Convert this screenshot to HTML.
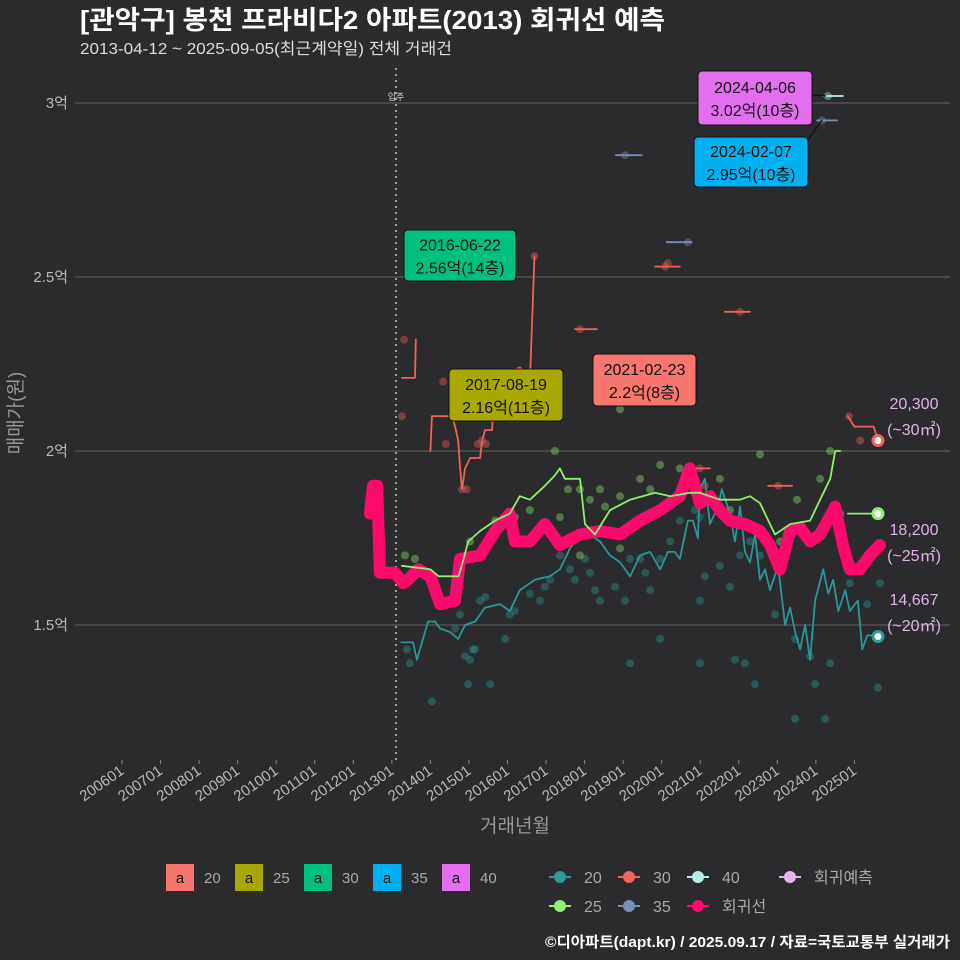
<!DOCTYPE html>
<html><head><meta charset="utf-8">
<style>
html,body{margin:0;padding:0;background:#2b2a2c;}
svg{display:block;font-family:"Liberation Sans","Noto Sans CJK KR",sans-serif;}
</style></head>
<body>
<svg id="chart" width="960" height="960" viewBox="0 0 960 960" xmlns="http://www.w3.org/2000/svg">
<rect x="0" y="0" width="960" height="960" fill="#2b2a2c"/>
<text x="80" y="29" fill="#ffffff" font-size="26" font-weight="bold" textLength="585" lengthAdjust="spacingAndGlyphs">[관악구] 봉천 프라비다2 아파트(2013) 회귀선 예측</text>
<text x="80" y="54" fill="#dddddd" font-size="16" textLength="372" lengthAdjust="spacingAndGlyphs">2013-04-12 ~ 2025-09-05(최근계약일) 전체 거래건</text>
<g id="grid"></g>
<g id="marks"></g>
<g id="annot"></g>
<text transform="translate(22,413) rotate(-90)" text-anchor="middle" fill="#999" font-size="19">매매가(원)</text>
<text x="515" y="832" text-anchor="middle" fill="#999" font-size="19">거래년월</text>
<g id="legend"></g>
<text x="950" y="947" text-anchor="end" fill="#ffffff" font-size="15" font-weight="bold" textLength="405" lengthAdjust="spacingAndGlyphs">©디아파트(dapt.kr) / 2025.09.17 / 자료=국토교통부 실거래가</text>
</svg>
<script>
const yTicks = [1.5, 2, 2.5, 3];
const yTickLabels = ["1.5억", "2억", "2.5억", "3억"];
const xTickYears = [2006,2007,2008,2009,2010,2011,2012,2013,2014,2015,2016,2017,2018,2019,2020,2021,2022,2023,2024,2025];
const xTickLabels = ["200601","200701","200801","200901","201001","201101","201201","201301","201401","201501","201601","201701","201801","201901","202001","202101","202201","202301","202401","202501"];

const regT = [2012.43,2012.51,2012.62,2012.69,2013.08,2013.30,2013.42,2013.68,2014.0,2014.25,2014.64,2014.77,2015.29,2015.68,2016.06,2016.19,2016.58,2016.97,2017.36,2017.88,2018.40,2018.92,2019.44,2019.96,2020.47,2020.73,2020.99,2021.25,2021.51,2021.77,2022.16,2022.55,2022.81,2023.07,2023.33,2023.59,2023.85,2024.11,2024.50,2024.70,2024.88,2025.14,2025.40,2025.66];
const regV = [1.82,1.90,1.90,1.65,1.65,1.62,1.63,1.66,1.64,1.56,1.57,1.69,1.70,1.77,1.82,1.74,1.74,1.79,1.73,1.76,1.77,1.76,1.80,1.83,1.87,1.95,1.85,1.87,1.83,1.80,1.79,1.77,1.73,1.66,1.77,1.78,1.74,1.76,1.84,1.73,1.66,1.66,1.70,1.73];

const s25T = [2013.26,2014.0,2014.21,2014.73,2014.86,2014.98,2015.29,2015.68,2016.06,2016.32,2016.58,2016.97,2017.23,2017.36,2017.49,2017.88,2018.01,2018.27,2018.66,2019.18,2019.83,2020.22,2020.73,2020.99,2021.51,2022.03,2022.29,2022.55,2022.94,2023.33,2023.85,2024.11,2024.37,2024.50,2024.63];
const s25V = [1.67,1.66,1.64,1.64,1.69,1.74,1.77,1.80,1.82,1.87,1.86,1.90,1.93,1.95,1.92,1.92,1.79,1.76,1.83,1.86,1.88,1.87,1.88,1.88,1.86,1.86,1.87,1.85,1.76,1.79,1.80,1.86,1.92,2.00,2.00];
const s25EndT = [2024.83,2025.61];
const s25EndV = [1.82,1.82];

const s20T = [2013.24,2013.55,2013.65,2013.94,2014.12,2014.25,2014.51,2014.72,2014.90,2015.16,2015.42,2015.81,2016.06,2016.32,2016.71,2017.10,2017.36,2017.62,2017.75,2018.01,2018.14,2018.40,2018.66,2018.92,2019.18,2019.44,2019.70,2019.96,2020.16,2020.34,2020.47,2020.68,2020.81,2020.94,2020.99,2021.12,2021.25,2021.46,2021.56,2021.77,2021.90,2022.03,2022.16,2022.29,2022.42,2022.55,2022.68,2022.81,2023.02,2023.20,2023.33,2023.46,2023.59,2023.72,2023.85,2023.98,2024.19,2024.32,2024.45,2024.58,2024.76,2024.88,2025.09,2025.20,2025.33,2025.61];
const s20V = [1.45,1.45,1.40,1.51,1.51,1.49,1.48,1.46,1.50,1.51,1.55,1.56,1.54,1.60,1.63,1.64,1.66,1.72,1.74,1.76,1.76,1.74,1.70,1.68,1.64,1.70,1.71,1.66,1.71,1.71,1.69,1.80,1.80,1.75,1.89,1.92,1.79,1.84,1.89,1.82,1.74,1.84,1.71,1.68,1.76,1.63,1.66,1.60,1.67,1.50,1.55,1.48,1.43,1.50,1.40,1.57,1.66,1.59,1.63,1.54,1.60,1.54,1.57,1.43,1.47,1.47];

const s30Segs = [
 [[2013.26,2.21],[2013.60,2.21],[2013.62,2.32]],
 [[2014.00,2.00],[2014.04,2.10],[2014.56,2.10],[2014.64,2.07],[2014.72,2.03],[2014.77,1.95],[2014.82,1.89],[2014.90,1.95],[2015.03,1.98],[2015.29,1.98],[2015.34,2.03],[2015.42,2.06],[2015.60,2.06],[2015.63,2.13],[2015.68,2.14],[2015.94,2.17],[2016.12,2.23],[2016.32,2.24],[2016.45,2.23],[2016.58,2.20],[2016.70,2.56]],
 [[2017.75,2.35],[2018.32,2.35]],
 [[2019.83,2.53],[2020.47,2.53]],
 [[2020.60,1.95],[2021.25,1.95]],
 [[2021.64,2.40],[2022.29,2.40]],
 [[2022.76,1.90],[2023.38,1.90]],
 [[2024.83,2.10],[2025.00,2.07],[2025.50,2.07],[2025.61,2.03]]
];
const s35Segs = [[[2018.81,2.85],[2019.48,2.85]],[[2020.13,2.60],[2020.78,2.60]],[[2024.03,2.95],[2024.55,2.95]]];
const s40Segs = [[[2024.18,3.02],[2024.70,3.02]]];

const p20T = [2013.47,2013.39,2014.04,2014.90,2015.03,2015.10,2015.16,2014.98,2015.55,2015.29,2015.42,2014.64,2014.77,2015.94,2016.06,2016.19,2016.84,2016.97,2017.10,2017.36,2017.75,2018.01,2018.14,2018.40,2018.79,2019.05,2019.18,2019.57,2019.96,2020.22,2020.47,2020.86,2020.99,2021.12,2021.51,2021.77,2022.03,2022.29,2022.55,2022.94,2023.46,2023.85,2024.24,2024.37,2024.88,2025.33,2025.61,2019.44,2019.70,2018.61,2019.18,2020.99,2020.99,2019.96,2021.90,2022.16,2022.42,2023.46,2023.98,2025.66,2016.58,2017.62,2018.27,2021.38];
const p20V = [1.39,1.43,1.28,1.41,1.40,1.43,1.43,1.33,1.33,1.57,1.58,1.49,1.53,1.46,1.53,1.54,1.57,1.61,1.63,1.70,1.63,1.69,1.65,1.57,1.61,1.57,1.69,1.65,1.69,1.74,1.80,1.83,1.81,1.64,1.67,1.61,1.70,1.74,1.70,1.53,1.46,1.41,1.23,1.39,1.62,1.56,1.32,1.69,1.60,1.76,1.39,1.39,1.57,1.46,1.40,1.39,1.33,1.23,1.33,1.62,1.59,1.66,1.60,1.86];

const p25T = [2013.34,2013.60,2015.03,2015.68,2016.19,2016.58,2017.23,2017.57,2017.88,2018.14,2018.40,2018.53,2018.92,2019.44,2019.70,2019.96,2020.47,2021.25,2021.51,2021.77,2022.16,2022.55,2023.07,2023.51,2024.11,2024.37,2018.92,2017.36,2017.88,2018.92,2024.63,2025.61];
const p25V = [1.70,1.69,1.74,1.80,1.81,1.83,2.00,1.89,1.89,1.86,1.89,1.84,1.87,1.92,1.89,1.96,1.95,1.86,1.92,1.83,1.79,1.99,1.74,1.86,1.92,2.00,1.72,1.81,1.70,2.12,1.82,1.82];

const p30T = [2013.26,2013.32,2014.33,2014.40,2015.23,2015.34,2015.44,2014.82,2014.94,2017.88,2020.09,2020.16,2020.99,2022.03,2023.02,2024.86,2025.15,2025.61,2016.70,2021.12];
const p30V = [2.10,2.32,2.20,2.02,2.02,2.03,2.02,1.89,1.89,2.35,2.53,2.54,1.95,2.40,1.90,2.10,2.03,2.03,2.56,1.90];

const p35T = [2019.05,2020.68,2024.16];
const p35V = [2.85,2.60,2.95];
const p40T = [2024.31];
const p40V = [3.02];

const NS = "http://www.w3.org/2000/svg";
const PX0 = 122, PXY = 38.55, Y2 = 451, PXV = 348;
function xs(t){ return PX0 + (t - 2006) * PXY; }
function ys(v){ return Y2 - (v - 2) * PXV; }
function mk(tag, attrs, parent){
  const e = document.createElementNS(NS, tag);
  for (const k in attrs) e.setAttribute(k, attrs[k]);
  parent.appendChild(e);
  return e;
}
const grid = document.getElementById('grid');
const marks = document.getElementById('marks');
const annot = document.getElementById('annot');
const legend = document.getElementById('legend');

yTicks.forEach((v,i)=>{
  const l = mk('line',{x1:75,x2:950,y1:ys(v),y2:ys(v),stroke:'#5a5a5a','stroke-width':1.2},grid);
  
  
  const t = mk('text',{x:68,y:ys(v)+5,'text-anchor':'end',fill:'#bbbbbb','font-size':15},grid);
  t.textContent = yTickLabels[i];
  
  
});
xTickYears.forEach((yr,i)=>{
  const x = xs(yr);
  const tk = mk('line',{x1:x,x2:x,y1:760,y2:764,stroke:'#888','stroke-width':1},grid);
  
  
  const t = mk('text',{x:x+3,y:773,'text-anchor':'end',fill:'#bbbbbb','font-size':15,transform:'rotate(-35 '+(x+3)+' 773)'},grid);
  t.textContent = xTickLabels[i];
  
  
});
const mv = mk('line',{x1:396,x2:396,y1:68,y2:760,stroke:'#cccccc','stroke-width':1.5,'stroke-dasharray':'2,4'},grid);


const mvt = mk('text',{x:396,y:100,'text-anchor':'middle',fill:'#ddd','font-size':9},grid);
mvt.textContent = '입주';



function dots(T,V,color,name){
  T.forEach((t,i)=>{
    const c = mk('circle',{cx:xs(t),cy:ys(V[i]),r:4,fill:color,'fill-opacity':0.4},marks);
    
    
  });
}
function poly(T,V,color,w,name,op){
  const pts = T.map((t,i)=>xs(t).toFixed(1)+','+ys(V[i]).toFixed(1)).join(' ');
  const p = mk('polyline',{points:pts,fill:'none',stroke:color,'stroke-width':w,'stroke-linejoin':'round','stroke-linecap':'round','stroke-opacity':op||1},marks);
  
  
}
function segs(S,color,w,name){
  S.forEach(s=>poly(s.map(d=>d[0]),s.map(d=>d[1]),color,w,name));
}
dots(p20T,p20V,'#2e9a9a','point-20');
dots(p25T,p25V,'#90ee70','point-25');
dots(p30T,p30V,'#f0625a','point-30');
dots(p35T,p35V,'#7890b8','point-35');
dots(p40T,p40V,'#b0f0e8','point-40');
poly(s20T,s20V,'#2a9898',1.8,'line-20');
segs(s30Segs,'#f0625a',1.8,'line-30');
segs(s35Segs,'#7890b8',1.8,'line-35');
segs(s40Segs,'#b0f0e8',1.8,'line-40');
poly(regT,regV,'#ff0a6c',12,'regression-line');
poly(s25T,s25V,'#90ee70',1.8,'line-25');
poly(s25EndT,s25EndV,'#90ee70',1.8,'line-25-end');

[[2025.61,2.03,'#f0625a','end-point-30'],[2025.61,1.82,'#90ee70','end-point-25'],[2025.61,1.467,'#2e9a9a','end-point-20']].forEach(e=>{
  const c = mk('circle',{cx:xs(e[0]),cy:ys(e[1]),r:5,fill:'#ffffff',stroke:e[2],'stroke-width':3},marks);
  
  
});
[['20,300',403],['(~30㎡)',429],['18,200',529],['(~25㎡)',555],['14,667',599],['(~20㎡)',625]].forEach(l=>{
  const t = mk('text',{x:914,y:l[1]+6,'text-anchor':'middle',fill:'#e2b4ea','font-size':16},annot);
  t.textContent = l[0];
  
  
});
const boxes = [
  [698,71,114,54,'#e36ef0','2024-04-06','3.02억(10층)',[812,95,826,96]],
  [694,137,114,50,'#00b0f0','2024-02-07','2.95억(10층)',[808,140,822,120]],
  [404,230,112,51,'#00c080','2016-06-22','2.56억(14층)',null],
  [449,369,114,52,'#a8a800','2017-08-19','2.16억(11층)',null],
  [593,354,103,52,'#f8766d','2021-02-23','2.2억(8층)',null]
];
boxes.forEach(b=>{
  if(b[7]){
    const ln = mk('line',{x1:b[7][0],y1:b[7][1],x2:b[7][2],y2:b[7][3],stroke:'#111','stroke-width':1.5},annot);
    
    
  }
  const r = mk('rect',{x:b[0],y:b[1],width:b[2],height:b[3],rx:4,fill:b[4],stroke:'#111','stroke-width':1},annot);
  
  
  const t1 = mk('text',{x:b[0]+b[2]/2,y:b[1]+b[3]/2-5,'text-anchor':'middle',fill:'#111','font-size':16},annot);
  t1.textContent = b[5];
  
  
  const t2 = mk('text',{x:b[0]+b[2]/2,y:b[1]+b[3]/2+18,'text-anchor':'middle',fill:'#111','font-size':16},annot);
  t2.textContent = b[6];
  
  
});
[['20','#f8766d',166],['25','#a8a800',235],['30','#00c080',304],['35','#00b0f0',373],['40','#e36ef0',442]].forEach(l=>{
  const r = mk('rect',{x:l[2],y:864,width:28,height:27,fill:l[1]},legend);
  
  
  const a = mk('text',{x:l[2]+14,y:883,'text-anchor':'middle',fill:'#111','font-size':15},legend);
  a.textContent = 'a';
  
  
  const t = mk('text',{x:l[2]+38,y:883,fill:'#aaaaaa','font-size':15},legend);
  t.textContent = l[0];
  
  
});
[['20','#2e9a9a',560,877],['30','#f0625a',629,877],['40','#b0f0e8',698,877],['회귀예측','#e2b4ea',790,877],['25','#90ee70',560,906],['35','#7890b8',629,906],['회귀선','#ff0a6c',698,906]].forEach(l=>{
  const ln = mk('line',{x1:l[2]-11,x2:l[2]+11,y1:l[3],y2:l[3],stroke:l[1],'stroke-width':2},legend);
  
  
  const c = mk('circle',{cx:l[2],cy:l[3],r:6,fill:l[1]},legend);
  
  
  const t = mk('text',{x:l[2]+24,y:l[3]+6,fill:'#aaaaaa','font-size':16},legend);
  t.textContent = l[0];
  
  
});
</script>
</body></html>
